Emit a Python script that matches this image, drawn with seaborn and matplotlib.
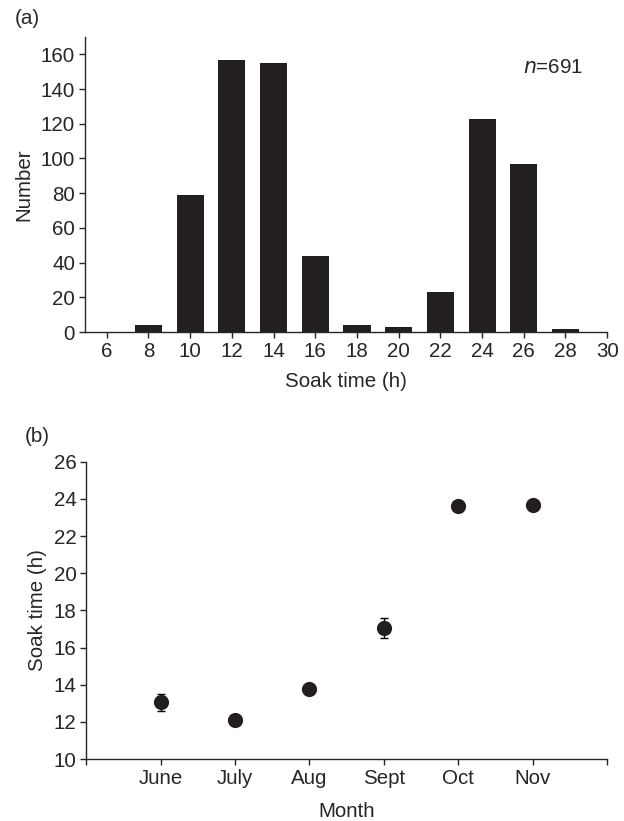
import matplotlib.pyplot as plt
import numpy as np
import pandas as pd
import seaborn as sns

sns.set_theme(style="ticks")
plt.rcParams["font.family"] = ["Liberation Sans", "DejaVu Sans"]
plt.rcParams["axes.linewidth"] = 1.0
plt.rcParams["xtick.major.width"] = 1.0
plt.rcParams["ytick.major.width"] = 1.0
plt.rcParams["xtick.major.size"] = 4
plt.rcParams["ytick.major.size"] = 4

# (a) soak time histogram
soak_hours = [6, 8, 10, 12, 14, 16, 18, 20, 22, 24, 26, 28]
soak_counts = [0, 4, 79, 157, 155, 44, 4, 3, 23, 123, 97, 2]

# (b) mean soak time per month
months = ["June", "July", "Aug", "Sept", "Oct", "Nov"]
month_means = [13.05, 12.1, 13.75, 17.07, 23.64, 23.68]
month_err = [0.45, 0.12, 0.18, 0.54, 0.1, 0.1]

bar_color = "#231f20"
fs = 14.8

fig = plt.figure(figsize=(6.24, 8.21), dpi=100)
ax1 = fig.add_axes([0.136, 0.5956, 0.837, 0.3594])
ax2 = fig.add_axes([0.138, 0.0755, 0.835, 0.362])

# ---- panel (a)
df_a = pd.DataFrame({"hours": soak_hours, "count": soak_counts})
sns.barplot(data=df_a, x="hours", y="count", native_scale=True, width=0.65,
            color=bar_color, saturation=1, edgecolor="none", ax=ax1)
ax1.set_xlim(4.95, 30)
ax1.set_ylim(0, 170)
ax1.set_xticks(range(6, 31, 2))
ax1.set_yticks(range(0, 161, 20))
ax1.tick_params(labelsize=fs, pad=3)
ax1.set_xlabel("Soak time (h)", fontsize=fs, labelpad=8)
ax1.set_ylabel("Number", fontsize=fs, labelpad=5)
ax1.text(0.954, 0.895, r"$n$=691", transform=ax1.transAxes, ha="right",
         va="center", fontsize=fs)
sns.despine(ax=ax1)

# ---- panel (b)
df_b = pd.DataFrame({"month": months, "mean": month_means, "err": month_err})
ax2.errorbar(df_b["month"], df_b["mean"], yerr=df_b["err"], fmt="none",
             ecolor="black", elinewidth=1.0, capsize=3, capthick=1.0, zorder=2)
sns.scatterplot(data=df_b, x="month", y="mean", s=120, color=bar_color,
                edgecolor=bar_color, linewidth=0, zorder=3, ax=ax2)
ax2.set_xlim(-1, 6)
ax2.set_ylim(10, 26)
ax2.set_xticks(range(-1, 7))
ax2.set_xticklabels([""] + months + [""])
ax2.set_yticks(range(10, 27, 2))
ax2.tick_params(labelsize=fs, pad=3)
ax2.set_xlabel("Month", fontsize=fs, labelpad=10)
ax2.set_ylabel("Soak time (h)", fontsize=fs, labelpad=5)
sns.despine(ax=ax2)

fig.text(0.024, 0.978, "(a)", fontsize=fs, ha="left", va="center")
fig.text(0.04, 0.468, "(b)", fontsize=fs, ha="left", va="center")

fig.savefig("out.png", dpi=100)
